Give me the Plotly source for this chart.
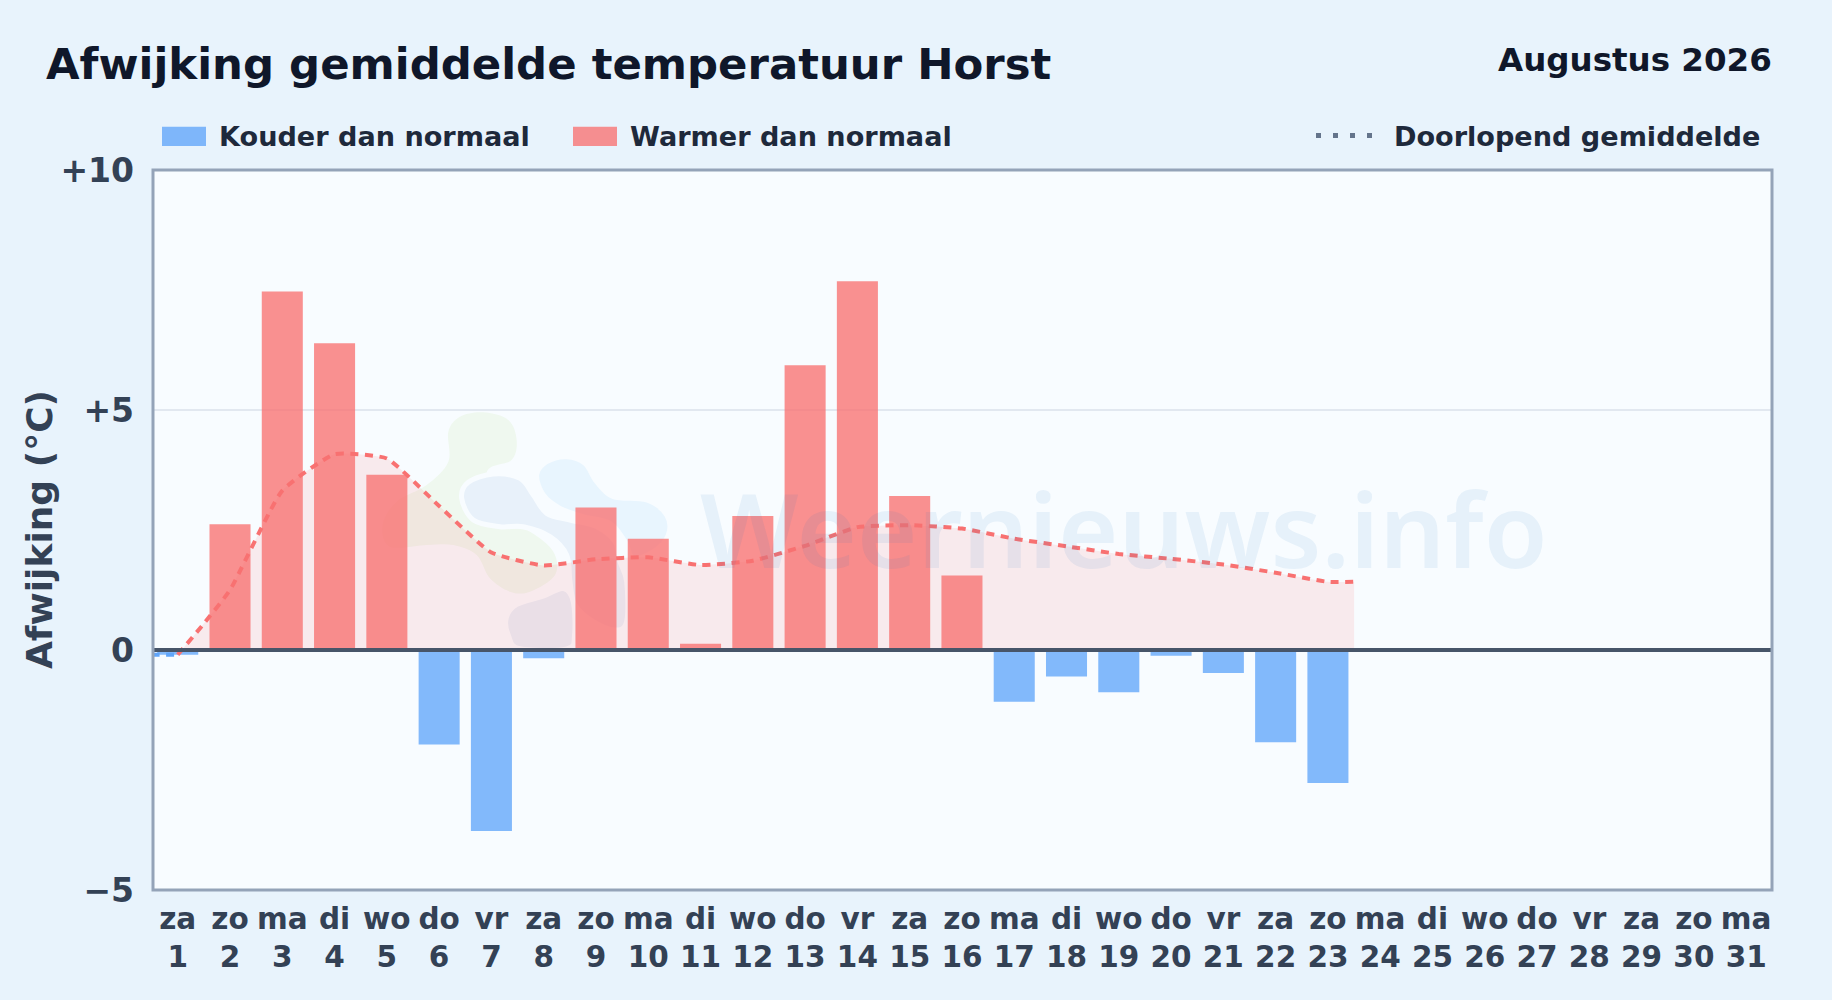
import plotly.graph_objects as go

# ---- data ----
days = list(range(1, 32))
weekdays = ["za","zo","ma","di","wo","do","vr","za","zo","ma","di","wo","do","vr","za","zo",
            "ma","di","wo","do","vr","za","zo","ma","di","wo","do","vr","za","zo","ma"]
warm_days = [2, 3, 4, 5, 9, 10, 11, 12, 13, 14, 15, 16]
warm_values = [2.62, 7.47, 6.39, 3.65, 2.97, 2.32, 0.13, 2.79, 5.93, 7.68, 3.21, 1.55]
cold_days = [1, 6, 7, 8, 17, 18, 19, 20, 21, 22, 23]
cold_values = [-0.10, -1.97, -3.77, -0.17, -1.08, -0.55, -0.88, -0.12, -0.48, -1.92, -2.77]
avg_days = [1, 1.5] + list(range(2, 24)) + [23.5]
avg_values = [-0.10, 0.55, 1.25, 3.32, 4.08, 3.99, 3.00, 2.03, 1.76, 1.89, 1.93, 1.77, 1.86,
              2.17, 2.56, 2.60, 2.53, 2.32, 2.16, 2.00, 1.90, 1.78, 1.61, 1.42, 1.42]
start_days = [0.5, 1]
start_values = [-0.10, -0.10]
y_ticks = [-5, 0, 5, 10]
y_labels = ["−5", "0", "+5", "+10"]

W, H = 1832, 1000
L, R, T, B = 153, 1772, 170, 890
BOLD = "DejaVu Sans"

def px(x): return (x - L) / (R - L)
def py(y): return (B - y) / (B - T)

def blob(points):
    """closed smooth path through watermark outline points (crop pixels of the logo)"""
    pts = [(370 + a / 3, 395 + b / 3) for a, b in points]
    n = len(pts)
    d = f"M{px(pts[0][0]):.5f},{py(pts[0][1]):.5f}"
    for i in range(n):
        p0, p1, p2, p3 = pts[i - 1], pts[i], pts[(i + 1) % n], pts[(i + 2) % n]
        c1 = (p1[0] + (p2[0] - p0[0]) / 6, p1[1] + (p2[1] - p0[1]) / 6)
        c2 = (p2[0] - (p3[0] - p1[0]) / 6, p2[1] - (p3[1] - p1[1]) / 6)
        d += (f" C{px(c1[0]):.5f},{py(c1[1]):.5f} {px(c2[0]):.5f},{py(c2[1]):.5f}"
              f" {px(p2[0]):.5f},{py(p2[1]):.5f}")
    return d + " Z"

green = [(235,110),(270,65),(340,52),(415,75),(440,135),(425,195),(350,235),(400,380),(480,410),
         (550,470),(555,540),(480,590),(420,590),(360,550),(320,480),(250,450),(170,450),(60,455),
         (38,390),(80,320),(170,270),(235,200)]
light = [(500,240),(530,200),(590,185),(645,205),(680,260),(730,305),(830,315),(890,360),(895,420),
         (850,470),(790,490),(765,440),(720,385),(640,365),(570,340),(520,300)]
mid = [(275,310),(295,262),(370,237),(450,250),(490,300),(530,355),(600,375),(680,395),(735,440),
       (750,500),(770,560),(770,680),(735,705),(670,680),(615,630),(600,560),(590,480),(540,425),
       (460,395),(390,395),(310,375)]
lower = [(410,670),(440,630),(520,605),(580,582),(608,620),(612,720),(590,760),(450,760),(418,725)]

BG = "#f8fcff"
BLUE_KEY, RED_KEY = "#7eb6fa", "#f58e90"

def key(x0, x1, color):
    return dict(type="rect", xref="paper", yref="paper", layer="above",
                x0=px(x0), x1=px(x1), y0=py(146), y1=py(126.7),
                fillcolor=color, line=dict(width=0))

shapes = [
    dict(type="path", xref="paper", yref="paper", layer="below", path=blob(green),
         fillcolor="rgba(132,204,22,0.07)", line=dict(width=0)),
    dict(type="path", xref="paper", yref="paper", layer="below", path=blob(light),
         fillcolor="#e8f5fe", line=dict(color=BG, width=5)),
    dict(type="path", xref="paper", yref="paper", layer="below", path=blob(mid),
         fillcolor="#e8f1fa", line=dict(color=BG, width=5)),
    dict(type="path", xref="paper", yref="paper", layer="below", path=blob(lower),
         fillcolor="#e8eff9", line=dict(color=BG, width=4)),
    dict(type="line", xref="paper", yref="y", x0=0, x1=1, y0=0, y1=0, layer="above",
         line=dict(color="#475569", width=4)),
    dict(type="rect", xref="paper", yref="paper", x0=0, x1=1, y0=0, y1=1, layer="above",
         line=dict(color="#94a3b8", width=3), fillcolor="rgba(0,0,0,0)"),
    key(162, 206, BLUE_KEY),
    key(573, 617, RED_KEY),
]

fig = go.Figure()
fig.add_trace(go.Scatter(x=avg_days, y=avg_values, mode="lines", showlegend=False, hoverinfo="skip",
                         fill="tozeroy", fillcolor="rgba(248,113,113,0.13)",
                         line=dict(color="#f87171", width=4, shape="spline", smoothing=0.45, dash="8px,6.5px")))
fig.add_trace(go.Bar(x=cold_days, y=cold_values, width=0.785, showlegend=False,
                     marker=dict(color="rgba(96,165,250,0.78)", line=dict(width=0))))
fig.add_trace(go.Bar(x=warm_days, y=warm_values, width=0.785, showlegend=False,
                     marker=dict(color="rgba(248,113,113,0.78)", line=dict(width=0))))
fig.add_trace(go.Scatter(x=start_days, y=start_values, mode="lines", showlegend=False, hoverinfo="skip",
                         line=dict(color="#60a5fa", width=4, dash="8px,6.5px")))

# legend keys
legend_font = dict(family=BOLD, size=27.1, color="#1e293b", weight="bold")
fig.add_trace(go.Scatter(x=[None], y=[None], mode="lines", name="Kouder dan normaal", legend="legend",
                         line=dict(color=BLUE_KEY, width=10, dash="44px,200px")))
fig.add_trace(go.Scatter(x=[None], y=[None], mode="lines", name="Warmer dan normaal", legend="legend2",
                         line=dict(color=RED_KEY, width=10, dash="44px,200px")))
fig.add_trace(go.Scatter(x=[None], y=[None], mode="lines", name="Doorlopend gemiddelde", legend="legend3",
                         line=dict(color="#64748b", width=5, dash="5px,12px,5px,12px,5px,12px,5px,200px")))

def leg(x, width):
    return dict(xref="container", yref="container", x=x / W, y=1 - 136 / H, xanchor="left", yanchor="middle",
                orientation="h", bgcolor="rgba(0,0,0,0)", font=legend_font, itemwidth=width,
                itemclick=False, itemdoubleclick=False, borderwidth=0)

fig.update_layout(
    width=W, height=H, barmode="overlay", bargap=0.22,
    margin=dict(l=L, r=W - R, t=T, b=H - B, pad=0, autoexpand=False),
    paper_bgcolor="#e8f3fc", plot_bgcolor=BG,
    font=dict(family=BOLD, color="#334155"),
    title=dict(text="Afwijking gemiddelde temperatuur Horst", xref="container", yref="container",
               x=46 / W, y=1 - 64 / H, xanchor="left", yanchor="middle",
               font=dict(family=BOLD, size=43.4, color="#0f172a", weight="bold")),
    legend=leg(157, 52), legend2=leg(568, 52), legend3=leg(1311, 73),
    xaxis=dict(range=[0.527, 31.494], tickmode="array", tickvals=days,
               ticktext=[f"{w}<br>{d}" for w, d in zip(weekdays, days)],
               tickangle=0, ticklen=0, showgrid=False, zeroline=False, showline=False,
               ticklabelstandoff=8,
               tickfont=dict(family=BOLD, size=29.5, color="#334155", weight="bold")),
    yaxis=dict(range=[-5, 10], tickmode="array", tickvals=y_ticks, ticktext=y_labels,
               ticklen=0, showgrid=True, gridcolor="#e2e8f0", gridwidth=1.5, zeroline=False, showline=False,
               ticklabelstandoff=18,
               tickfont=dict(family=BOLD, size=33, color="#334155", weight="bold")),
    shapes=shapes,
    annotations=[
        dict(text="Augustus 2026", xref="paper", yref="paper", x=px(1774), y=py(60), xanchor="right", yanchor="middle",
             showarrow=False, font=dict(family=BOLD, size=32.5, color="#0f172a", weight="bold")),
        dict(text="Afwijking (°C)", xref="paper", yref="paper", x=px(39), y=py(530), textangle=-90,
             xanchor="center", yanchor="middle", showarrow=False,
             font=dict(family=BOLD, size=36, color="#334155", weight="bold")),
        dict(text="Weernieuws.info", xref="paper", yref="paper", x=px(1124), y=py(527),
             xanchor="center", yanchor="middle", showarrow=False,
             font=dict(family="Noto Sans", size=103.5, weight=600, color="rgba(20,110,190,0.08)")),
    ],
)

fig.write_html("out.html", config=dict(displayModeBar=False),
               post_script="document.body.style.margin='0';document.body.style.overflow='hidden';")
